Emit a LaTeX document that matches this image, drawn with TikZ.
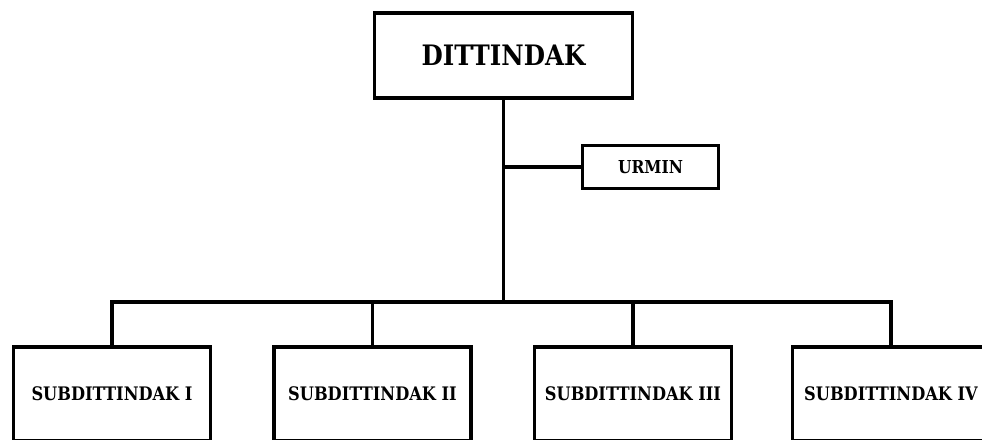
\documentclass[tikz,border=0pt]{standalone}
\usepackage{fontspec}
\usepackage{graphicx}
\setmainfont{DejaVu Serif}
\usetikzlibrary{shadows,backgrounds}
% slightly taller lettering for the box labels
\newcommand\talllabel[1]{\scalebox{1}[1.15]{#1}}
\begin{document}
\begin{tikzpicture}[x=1pt,y=-1pt,
  box/.style={draw, line width=3.4pt, fill=white, inner sep=0pt,
    drop shadow={shadow xshift=1.5pt, shadow yshift=-1.5pt, fill=black!60, opacity=0.7},
    font=\bfseries},
  link/.style={line width=3.2pt}]
\useasboundingbox (0,0) rectangle (982,439);
\clip (0,0) rectangle (982,439);

% head office
\node[box, minimum width=258pt, minimum height=85pt, font=\bfseries\fontsize{24.5}{28}\selectfont]
  (top) at (503.5,55.5) {\talllabel{DITTINDAK}};
% administrative unit
\node[box, minimum width=136pt, minimum height=43pt, font=\bfseries\fontsize{15.5}{18}\selectfont]
  (urmin) at (650.5,167) {\talllabel{URMIN}};
% sub-directorates
\begin{scope}[every node/.style={box, minimum width=197pt, minimum height=94pt,
    font=\bfseries\fontsize{16.2}{19}\selectfont}]
  \node (sub1) at (112,394)   {\talllabel{SUBDITTINDAK I}};
  \node (sub2) at (372.5,394) {\talllabel{SUBDITTINDAK II}};
  \node (sub3) at (633,394)   {\talllabel{SUBDITTINDAK III}};
  \node (sub4) at (891,394)   {\talllabel{SUBDITTINDAK IV}};
\end{scope}

\coordinate (bus) at (503.5,302);
\begin{scope}[on background layer]
  \draw[link] (top.south) -- (bus);
  \draw[link] (urmin.west) -- (urmin.west -| top.south);
  \draw[link] (sub1.north) -- (sub1.north |- bus) -- (sub4.north |- bus) -- (sub4.north);
  \draw[link] (sub2.north) -- (sub2.north |- bus);
  \draw[link] (sub3.north) -- (sub3.north |- bus);
\end{scope}
\end{tikzpicture}
\end{document}
